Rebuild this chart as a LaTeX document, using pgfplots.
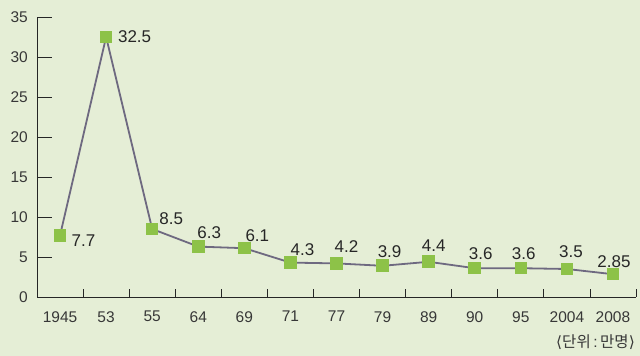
\documentclass[border=0pt]{standalone}
\usepackage{pgfplots}
\pgfplotsset{compat=1.18}
\usepackage{pgfplotstable}
\usepackage{fontspec}
\setmainfont{Liberation Sans}
\newfontfamily\cjk{Noto Sans CJK KR}
\newfontfamily\dejavu{DejaVu Sans}
\definecolor{bg}{RGB}{229,238,214}
\definecolor{mk}{RGB}{141,194,72}
\definecolor{ln}{RGB}{110,105,128}
\definecolor{tx}{RGB}{55,55,55}
\pgfplotstableread{
x y label dx dy
0 7.7 7.7 23.5 -5
1 32.5 32.5 28.5 0
2 8.5 8.5 19 10
3 6.3 6.3 11 13.5
4 6.1 6.1 13 13
5 4.3 4.3 12 12.5
6 4.2 4.2 10 17
7 3.9 3.9 7 14
8 4.4 4.4 5 16
9 3.6 3.6 6 15
10 3.6 3.6 3 15
11 3.5 3.5 4 17
12 2.85 2.85 1 13
}\data
\begin{document}
\begin{tikzpicture}
\fill[bg] (0,0) rectangle (640pt,356pt);
\begin{axis}[
  at={(37pt,59pt)}, anchor=south west,
  width=599pt, height=280pt, scale only axis,
  xmin=-0.5, xmax=12.5, ymin=0, ymax=35,
  axis x line=bottom, axis y line=left,
  axis line style={-, draw=black!85, line width=0.8pt},
  tick align=inside,
  xtick={0,...,12},
  xticklabels={1945,53,55,64,69,71,77,79,89,90,95,2004,2008},
  minor xtick={0.5,1.5,...,12.5},
  major x tick style={draw=none},
  minor tick length=8pt, major tick length=15pt,
  every tick/.append style={black!85, line width=0.8pt},
  ytick={0,5,...,35},
  /pgf/number format/assume math mode=true,
  tick label style={font=\fontsize{15.5}{15.5}\selectfont, text=tx, inner sep=0pt},
  x tick label style={anchor=north, yshift=-14pt},
  y tick label style={anchor=east, xshift=-9pt},
  clip=false,
]
\addplot[color=ln, line width=1.8pt, mark=square*, mark size=5.8pt,
  mark options={fill=mk, draw=mk, line width=0pt}] table[x=x, y=y] {\data};
\addplot[draw=none, mark=none, point meta=explicit symbolic,
  visualization depends on={\thisrow{dx} \as \dx},
  visualization depends on={\thisrow{dy} \as \dy},
  nodes near coords,
  nodes near coords style={anchor=center, inner sep=0pt, xshift=\dx pt, yshift=\dy pt,
    font=\fontsize{17}{17}\selectfont, text=black!85}]
  table[x=x, y=y, meta=label] {\data};
\end{axis}
\node[anchor=east, inner sep=0pt, text=tx, font=\fontsize{15.5}{15.5}\selectfont] at (635pt,14pt)
  {{\dejavu ⟨}{\cjk 단위}\,:\,{\cjk 만명}{\dejavu ⟩}};
\end{tikzpicture}
\end{document}
